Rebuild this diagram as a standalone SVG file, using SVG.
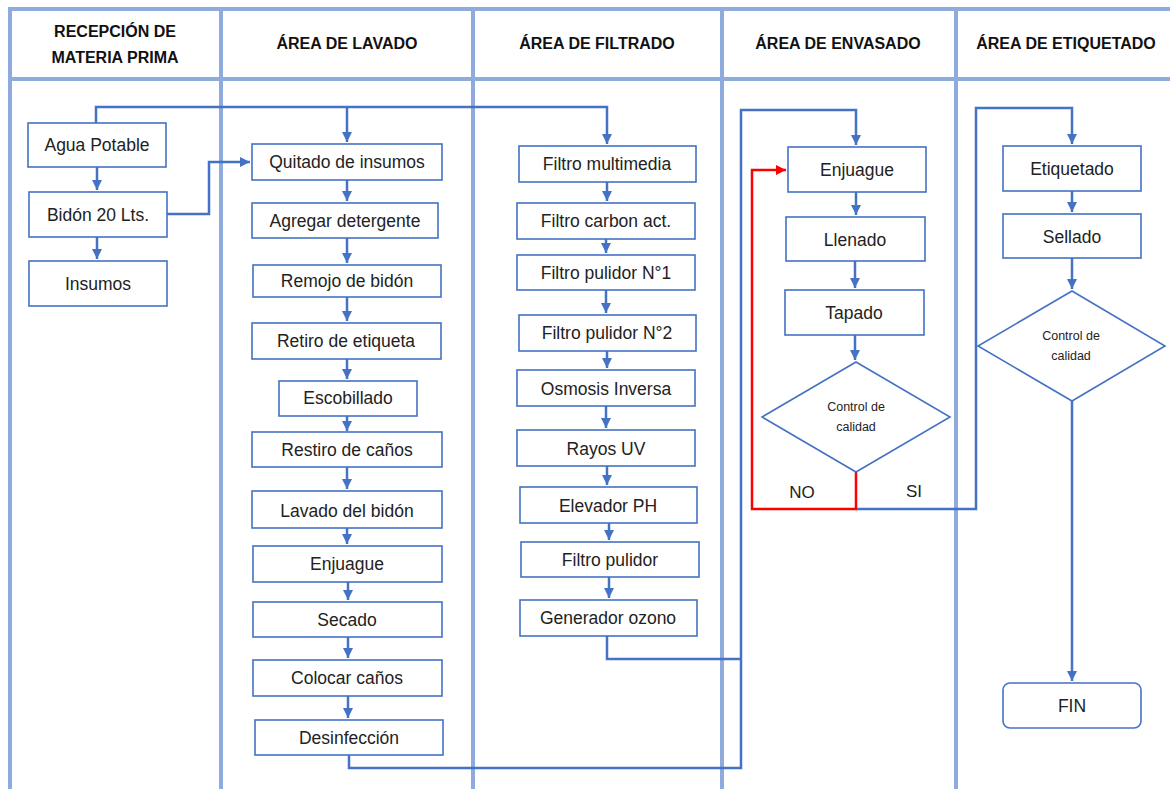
<svg xmlns="http://www.w3.org/2000/svg" width="1170" height="789" viewBox="0 0 1170 789">
  <style>
    .lane { stroke: #8FAADC; stroke-width: 4; fill: none; }
    .head { font-family: "Liberation Sans", Arial, sans-serif; font-weight: bold; font-size: 16px; fill: #111; text-anchor: middle; }
    .box { fill: #fff; stroke: #4472C4; stroke-width: 1.6; }
    .lbl { font-family: "Liberation Sans", Arial, sans-serif; font-size: 17.5px; fill: #222; text-anchor: middle; }
    .small { font-family: "Liberation Sans", Arial, sans-serif; font-size: 12.5px; fill: #222; text-anchor: middle; }
    .yn { font-family: "Liberation Sans", Arial, sans-serif; font-size: 17px; fill: #222; text-anchor: middle; }
    .flow { stroke: #4472C4; stroke-width: 2.5; fill: none; }
    .flow-red { stroke: #FF0000; stroke-width: 2.5; fill: none; }
  </style>
  <defs>
    <marker id="arr" markerUnits="userSpaceOnUse" markerWidth="12" markerHeight="12" refX="10" refY="6" orient="auto">
      <path d="M0,1 L10,6 L0,11 Z" fill="#4472C4"/>
    </marker>
    <marker id="arr-red" markerUnits="userSpaceOnUse" markerWidth="12" markerHeight="12" refX="10" refY="6" orient="auto">
      <path d="M0,1 L10,6 L0,11 Z" fill="#FF0000"/>
    </marker>
  </defs>
  <rect width="1170" height="789" fill="#fff"/>

  <!-- swimlane frame -->
  <g id="lanes">
    <line class="lane" x1="8" y1="9" x2="1170" y2="9"/>
    <line class="lane" x1="8" y1="79" x2="1170" y2="79"/>
    <line class="lane" x1="10" y1="7" x2="10" y2="789"/>
    <line class="lane" x1="221" y1="7" x2="221" y2="789"/>
    <line class="lane" x1="473" y1="7" x2="473" y2="789"/>
    <line class="lane" x1="722" y1="7" x2="722" y2="789"/>
    <line class="lane" x1="956" y1="7" x2="956" y2="789"/>
    <text class="head" x="115" y="37">RECEPCIÓN DE</text>
    <text class="head" x="115" y="63">MATERIA PRIMA</text>
    <text class="head" x="347" y="49">ÁREA DE LAVADO</text>
    <text class="head" x="597" y="49">ÁREA DE FILTRADO</text>
    <text class="head" x="838" y="49">ÁREA DE ENVASADO</text>
    <text class="head" x="1066" y="49">ÁREA DE ETIQUETADO</text>
  </g>

  <!-- connectors -->
  <g id="connectors">
    <!-- recepción -->
    <path class="flow" d="M97,167 V190" marker-end="url(#arr)"/>
    <path class="flow" d="M97,237 V259" marker-end="url(#arr)"/>
    <path class="flow" d="M96,123 V107 H607 V144" marker-end="url(#arr)"/>
    <path class="flow" d="M347,107 V142" marker-end="url(#arr)"/>
    <path class="flow" d="M167,214 H209 V162 H250" marker-end="url(#arr)"/>
    <!-- lavado -->
    <path class="flow" d="M347,180 V201" marker-end="url(#arr)"/>
    <path class="flow" d="M347,238 V263" marker-end="url(#arr)"/>
    <path class="flow" d="M347,297 V321" marker-end="url(#arr)"/>
    <path class="flow" d="M347,359 V379" marker-end="url(#arr)"/>
    <path class="flow" d="M347,416 V431" marker-end="url(#arr)"/>
    <path class="flow" d="M347,467 V489" marker-end="url(#arr)"/>
    <path class="flow" d="M347,528 V544" marker-end="url(#arr)"/>
    <path class="flow" d="M348,582 V600" marker-end="url(#arr)"/>
    <path class="flow" d="M348,637 V658" marker-end="url(#arr)"/>
    <path class="flow" d="M348,696 V718" marker-end="url(#arr)"/>
    <path class="flow" d="M349,755 V768 H741 V110 H856 V145" marker-end="url(#arr)"/>
    <!-- filtrado -->
    <path class="flow" d="M607,182 V201" marker-end="url(#arr)"/>
    <path class="flow" d="M606,239 V253" marker-end="url(#arr)"/>
    <path class="flow" d="M606,290 V313" marker-end="url(#arr)"/>
    <path class="flow" d="M607,351 V368" marker-end="url(#arr)"/>
    <path class="flow" d="M606,406 V428" marker-end="url(#arr)"/>
    <path class="flow" d="M607,466 V485" marker-end="url(#arr)"/>
    <path class="flow" d="M609,523 V540" marker-end="url(#arr)"/>
    <path class="flow" d="M609,577 V598" marker-end="url(#arr)"/>
    <path class="flow" d="M607,636 V659 H741"/>
    <!-- envasado -->
    <path class="flow" d="M856,192 V215" marker-end="url(#arr)"/>
    <path class="flow" d="M855,261 V288" marker-end="url(#arr)"/>
    <path class="flow" d="M855,335 V360" marker-end="url(#arr)"/>
    <path class="flow-red" d="M856,472 V509 H752 V170 H786" marker-end="url(#arr-red)"/>
    <path class="flow" d="M857,509 H976 V108 H1072 V144" marker-end="url(#arr)"/>
    <!-- etiquetado -->
    <path class="flow" d="M1072,191 V212" marker-end="url(#arr)"/>
    <path class="flow" d="M1072,258 V289" marker-end="url(#arr)"/>
    <path class="flow" d="M1072,401 V681" marker-end="url(#arr)"/>
  </g>

  <!-- recepción de materia prima -->
  <g id="agua-potable"><rect class="box" x="28" y="123" width="138" height="44"/><text class="lbl" x="97" y="151">Agua Potable</text></g>
  <g id="bidon"><rect class="box" x="29" y="192" width="138" height="45"/><text class="lbl" x="98" y="221">Bidón 20 Lts.</text></g>
  <g id="insumos"><rect class="box" x="29" y="261" width="138" height="45"/><text class="lbl" x="98" y="290">Insumos</text></g>

  <!-- área de lavado -->
  <g id="quitado"><rect class="box" x="252" y="144" width="190" height="36"/><text class="lbl" x="347" y="168">Quitado de insumos</text></g>
  <g id="detergente"><rect class="box" x="252" y="203" width="186" height="35"/><text class="lbl" x="345" y="227">Agregar detergente</text></g>
  <g id="remojo"><rect class="box" x="253" y="265" width="188" height="32"/><text class="lbl" x="347" y="287">Remojo de bidón</text></g>
  <g id="etiqueta"><rect class="box" x="252" y="323" width="189" height="36"/><text class="lbl" x="346" y="347">Retiro de etiqueta</text></g>
  <g id="escobillado"><rect class="box" x="279" y="381" width="138" height="35"/><text class="lbl" x="348" y="404">Escobillado</text></g>
  <g id="restiro"><rect class="box" x="252" y="432" width="190" height="35"/><text class="lbl" x="347" y="456">Restiro de caños</text></g>
  <g id="lavado"><rect class="box" x="252" y="491" width="190" height="37"/><text class="lbl" x="347" y="517">Lavado del bidón</text></g>
  <g id="enjuague-lav"><rect class="box" x="253" y="546" width="189" height="36"/><text class="lbl" x="347" y="570">Enjuague</text></g>
  <g id="secado"><rect class="box" x="253" y="602" width="189" height="35"/><text class="lbl" x="347" y="626">Secado</text></g>
  <g id="colocar"><rect class="box" x="253" y="660" width="189" height="36"/><text class="lbl" x="347" y="684">Colocar caños</text></g>
  <g id="desinfeccion"><rect class="box" x="255" y="720" width="188" height="35"/><text class="lbl" x="349" y="744">Desinfección</text></g>

  <!-- área de filtrado -->
  <g id="multimedia"><rect class="box" x="519" y="146" width="177" height="36"/><text class="lbl" x="607" y="170">Filtro multimedia</text></g>
  <g id="carbon"><rect class="box" x="517" y="203" width="178" height="36"/><text class="lbl" x="606" y="227">Filtro carbon act.</text></g>
  <g id="pulidor1"><rect class="box" x="517" y="255" width="178" height="35"/><text class="lbl" x="606" y="279">Filtro pulidor N°1</text></g>
  <g id="pulidor2"><rect class="box" x="519" y="315" width="177" height="36"/><text class="lbl" x="607" y="339">Filtro pulidor N°2</text></g>
  <g id="osmosis"><rect class="box" x="517" y="370" width="178" height="36"/><text class="lbl" x="606" y="395">Osmosis Inversa</text></g>
  <g id="uv"><rect class="box" x="517" y="430" width="178" height="36"/><text class="lbl" x="606" y="455">Rayos UV</text></g>
  <g id="ph"><rect class="box" x="520" y="487" width="177" height="36"/><text class="lbl" x="608" y="512">Elevador PH</text></g>
  <g id="pulidor"><rect class="box" x="521" y="542" width="178" height="35"/><text class="lbl" x="610" y="566">Filtro pulidor</text></g>
  <g id="ozono"><rect class="box" x="520" y="600" width="177" height="36"/><text class="lbl" x="608" y="624">Generador ozono</text></g>

  <!-- área de envasado -->
  <g id="enjuague-env"><rect class="box" x="788" y="147" width="138" height="45"/><text class="lbl" x="857" y="176">Enjuague</text></g>
  <g id="llenado"><rect class="box" x="786" y="217" width="139" height="44"/><text class="lbl" x="855" y="246">Llenado</text></g>
  <g id="tapado"><rect class="box" x="785" y="290" width="139" height="45"/><text class="lbl" x="854" y="319">Tapado</text></g>
  <g id="control-env">
    <polygon class="box" points="856,362 950,417 856,472 762,417"/>
    <text class="small" x="856" y="411">Control de</text>
    <text class="small" x="856" y="431">calidad</text>
  </g>
  <g id="decision-labels">
    <text class="yn" x="802" y="498">NO</text>
    <text class="yn" x="914" y="497">SI</text>
  </g>

  <!-- área de etiquetado -->
  <g id="etiquetado"><rect class="box" x="1003" y="146" width="138" height="45"/><text class="lbl" x="1072" y="175">Etiquetado</text></g>
  <g id="sellado"><rect class="box" x="1003" y="214" width="138" height="44"/><text class="lbl" x="1072" y="243">Sellado</text></g>
  <g id="control-eti">
    <polygon class="box" points="1072,291 1165,346 1072,401 978,346"/>
    <text class="small" x="1071" y="340">Control de</text>
    <text class="small" x="1071" y="360">calidad</text>
  </g>
  <g id="fin"><rect class="box" x="1003" y="683" width="138" height="45" rx="7"/><text class="lbl" x="1072" y="712">FIN</text></g>
</svg>
